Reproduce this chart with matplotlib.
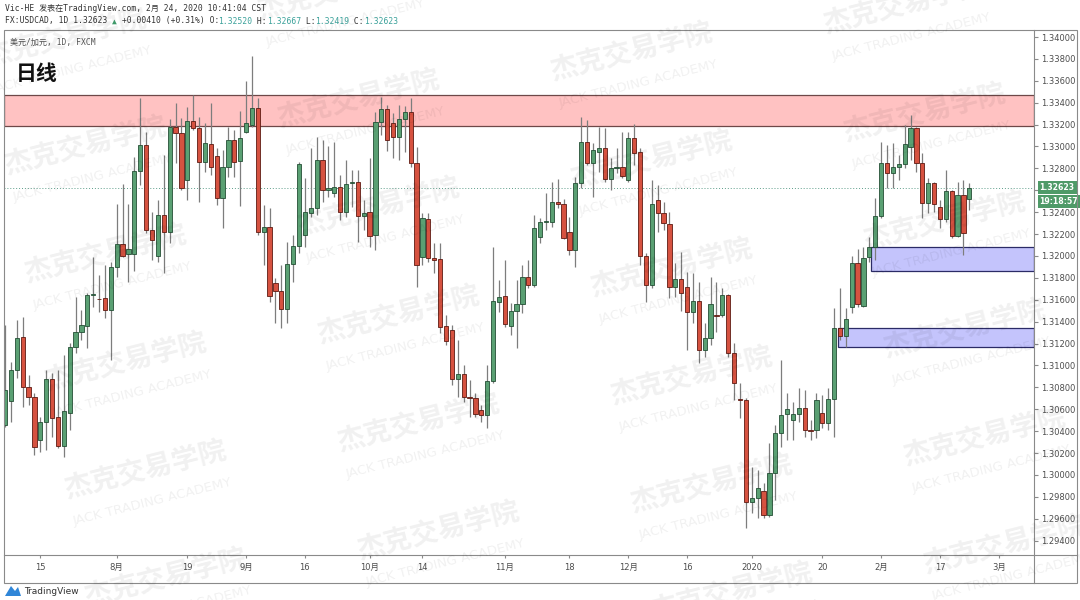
import numpy as np
import pandas as pd
import matplotlib
matplotlib.use("Agg")
import matplotlib.pyplot as plt
from matplotlib.patches import Rectangle, Polygon
from matplotlib.lines import Line2D
from matplotlib.transforms import blended_transform_factory

plt.rcParams['font.family'] = ['DejaVu Sans', 'Noto Sans CJK SC']
MONO = ['DejaVu Sans Mono', 'Noto Sans CJK SC']
CJK = ['Noto Sans CJK SC', 'DejaVu Sans']

# --- données USDCAD 1D (FXCM) ---
holidays = ['2019-12-25', '2020-01-01']
dates = pd.bdate_range('2019-07-05', '2020-02-24')
dates = dates[~dates.isin(pd.to_datetime(holidays))]

opens = [1.30457, 1.30676, 1.30959, 1.31257, 1.30807, 1.30709, 1.30320, 1.30481, 1.30874, 1.30527,
         1.30268, 1.30569, 1.31172, 1.31303, 1.31364, 1.31644, 1.31610, 1.31613, 1.31507, 1.31903,
         1.32107, 1.32018, 1.32018, 1.32776, 1.33011, 1.32238, 1.32003, 1.32375, 1.32222, 1.33181,
         1.33126, 1.32694, 1.33233, 1.33166, 1.32862, 1.33023, 1.32916, 1.32533, 1.32816, 1.33059,
         1.32868, 1.33136, 1.33196, 1.33355, 1.32222, 1.32268, 1.31750, 1.31680, 1.31513, 1.31924,
         1.32094, 1.32192, 1.32396, 1.32435, 1.32876, 1.32603, 1.32578, 1.32627, 1.32405, 1.32664,
         1.32673, 1.32365, 1.32399, 1.32192, 1.33227, 1.33339, 1.33217, 1.33083, 1.33248, 1.33312,
         1.32846, 1.31994, 1.32338, 1.31985, 1.31970, 1.31361, 1.31324, 1.30874, 1.30919, 1.30709,
         1.30706, 1.30594, 1.30548, 1.30862, 1.31577, 1.31635, 1.31361, 1.31498, 1.31559, 1.31805,
         1.31735, 1.32177, 1.32314, 1.32314, 1.32496, 1.32472, 1.32222, 1.32055, 1.32664, 1.33038,
         1.32846, 1.32953, 1.32983, 1.32703, 1.32801, 1.32810, 1.32694, 1.33075, 1.32953, 1.32000,
         1.31735, 1.32511, 1.32390, 1.32292, 1.31720, 1.31787, 1.31720, 1.31492, 1.31592, 1.31142,
         1.31248, 1.31458, 1.31461, 1.31644, 1.31111, 1.30690, 1.30685, 1.29751, 1.29787, 1.29857,
         1.29635, 1.30021, 1.30387, 1.30557, 1.30502, 1.30554, 1.30609, 1.30411, 1.30411, 1.30563,
         1.30472, 1.30694, 1.31340, 1.31270, 1.31531, 1.31939, 1.31547, 1.31994, 1.32085, 1.32365,
         1.32846, 1.32755, 1.32816, 1.32837, 1.32999, 1.33166, 1.32846, 1.32487, 1.32664, 1.32445,
         1.32338, 1.32594, 1.32183, 1.32557, 1.32520]
highs = [1.31370, 1.31035, 1.31415, 1.31440, 1.30913, 1.30746, 1.30533, 1.30959, 1.30928, 1.30959,
         1.31096, 1.31202, 1.31629, 1.31507, 1.31665, 1.31994, 1.31827, 1.31918, 1.31948, 1.32475,
         1.32655, 1.32472, 1.32907, 1.33440, 1.33136, 1.32405, 1.32512, 1.32922, 1.33248, 1.33394,
         1.33257, 1.33364, 1.33470, 1.33273, 1.33212, 1.33394, 1.32983, 1.32968, 1.33181, 1.33151,
         1.33324, 1.33601, 1.33826, 1.33440, 1.32466, 1.32435, 1.31796, 1.31918, 1.32131, 1.32192,
         1.32862, 1.32709, 1.32983, 1.33090, 1.33059, 1.33005, 1.33044, 1.32740, 1.32876, 1.32785,
         1.32785, 1.32512, 1.32892, 1.33318, 1.33455, 1.33379, 1.33303, 1.33379, 1.33370, 1.33440,
         1.32998, 1.32389, 1.32389, 1.32116, 1.32116, 1.31461, 1.31370, 1.31233, 1.31005, 1.30868,
         1.30746, 1.30639, 1.31005, 1.32085, 1.31781, 1.31964, 1.31568, 1.31781, 1.31918, 1.31964,
         1.32375, 1.32344, 1.32572, 1.32679, 1.32703, 1.32518, 1.32359, 1.32725, 1.33272, 1.33242,
         1.33029, 1.33181, 1.33166, 1.32892, 1.32983, 1.33129, 1.33136, 1.33206, 1.32983, 1.32025,
         1.32694, 1.32649, 1.32496, 1.32405, 1.31933, 1.32040, 1.31857, 1.31842, 1.31766, 1.31385,
         1.31811, 1.31766, 1.31705, 1.31650, 1.31203, 1.30837, 1.30700, 1.30076, 1.30046, 1.29924,
         1.30289, 1.30457, 1.31050, 1.30746, 1.30670, 1.30792, 1.30777, 1.30502, 1.30746, 1.30731,
         1.30792, 1.31522, 1.31705, 1.31522, 1.32000, 1.32061, 1.32085, 1.32177, 1.32527, 1.33044,
         1.33014, 1.33029, 1.32922, 1.33196, 1.33288, 1.33181, 1.32938, 1.32709, 1.32679, 1.32511,
         1.32785, 1.32603, 1.32679, 1.32694, 1.32667]
lows = [1.30441, 1.30487, 1.30883, 1.30624, 1.30639, 1.30183, 1.30213, 1.30228, 1.30350, 1.30244,
        1.30168, 1.30411, 1.31111, 1.31233, 1.31157, 1.31537, 1.31491, 1.31431, 1.31050, 1.31811,
        1.31994, 1.31766, 1.31866, 1.32648, 1.32207, 1.31964, 1.31948, 1.31842, 1.32116, 1.32846,
        1.32603, 1.32512, 1.33151, 1.32496, 1.32770, 1.32740, 1.32466, 1.32253, 1.32724, 1.32724,
        1.32457, 1.33120, 1.33181, 1.32192, 1.31918, 1.31583, 1.31391, 1.31339, 1.31385, 1.31766,
        1.32024, 1.32085, 1.32359, 1.32375, 1.32496, 1.32542, 1.32542, 1.32329, 1.32359, 1.32451,
        1.32131, 1.32238, 1.32085, 1.32055, 1.33105, 1.32962, 1.32892, 1.32876, 1.32953, 1.32816,
        1.31720, 1.31918, 1.31948, 1.31842, 1.31294, 1.31187, 1.30822, 1.30715, 1.30670, 1.30533,
        1.30533, 1.30487, 1.30426, 1.30837, 1.31491, 1.31354, 1.31279, 1.31157, 1.31476, 1.31705,
        1.31720, 1.32116, 1.32237, 1.32268, 1.32435, 1.32152, 1.32009, 1.31903, 1.32618, 1.32831,
        1.32542, 1.32770, 1.32679, 1.32603, 1.32755, 1.32709, 1.32679, 1.32831, 1.31918, 1.31583,
        1.31705, 1.32222, 1.32237, 1.31614, 1.31629, 1.31501, 1.31142, 1.31385, 1.31020, 1.31081,
        1.31187, 1.31309, 1.31446, 1.31081, 1.30685, 1.30518, 1.29513, 1.29650, 1.29604, 1.29604,
        1.29620, 1.29772, 1.30259, 1.30320, 1.30320, 1.30487, 1.30350, 1.30320, 1.30335, 1.30426,
        1.30411, 1.30350, 1.31233, 1.31172, 1.31477, 1.31537, 1.31537, 1.31948, 1.31964, 1.32344,
        1.32618, 1.32618, 1.32694, 1.32801, 1.32877, 1.32770, 1.32344, 1.32390, 1.32405, 1.32253,
        1.32314, 1.32161, 1.32177, 1.32009, 1.32419]
closes = [1.30776, 1.30959, 1.31254, 1.30807, 1.30709, 1.30259, 1.30481, 1.30874, 1.30517, 1.30268,
          1.30585, 1.31172, 1.31303, 1.31367, 1.31644, 1.31650, 1.31604, 1.31507, 1.31903, 1.32107,
          1.32003, 1.32061, 1.32776, 1.33011, 1.32238, 1.32146, 1.32375, 1.32222, 1.33181, 1.33126,
          1.32618, 1.33233, 1.33172, 1.32855, 1.33029, 1.32816, 1.32533, 1.32816, 1.33059, 1.32862,
          1.33075, 1.33212, 1.33349, 1.32222, 1.32268, 1.31635, 1.31680, 1.31513, 1.31924, 1.32094,
          1.32840, 1.32399, 1.32435, 1.32876, 1.32603, 1.32624, 1.32627, 1.32405, 1.32658, 1.32676,
          1.32365, 1.32396, 1.32186, 1.33227, 1.33339, 1.33059, 1.33083, 1.33248, 1.33312, 1.32846,
          1.31918, 1.32350, 1.31985, 1.31964, 1.31354, 1.31224, 1.30874, 1.30919, 1.30709, 1.30706,
          1.30554, 1.30548, 1.30862, 1.31589, 1.31629, 1.31376, 1.31501, 1.31559, 1.31805, 1.31735,
          1.32253, 1.32314, 1.32323, 1.32496, 1.32472, 1.32168, 1.32055, 1.32670, 1.33038, 1.32846,
          1.32968, 1.32983, 1.32703, 1.32801, 1.32810, 1.32731, 1.33075, 1.32944, 1.32000, 1.31735,
          1.32475, 1.32390, 1.32298, 1.31720, 1.31787, 1.31665, 1.31492, 1.31592, 1.31142, 1.31248,
          1.31562, 1.31452, 1.31644, 1.31111, 1.30843, 1.30685, 1.29751, 1.29787, 1.29878, 1.29635,
          1.30021, 1.30387, 1.30548, 1.30600, 1.30554, 1.30609, 1.30411, 1.30405, 1.30685, 1.30472,
          1.30694, 1.31340, 1.31270, 1.31422, 1.31933, 1.31559, 1.31982, 1.32085, 1.32365, 1.32846,
          1.32755, 1.32816, 1.32837, 1.33020, 1.33166, 1.32846, 1.32487, 1.32664, 1.32472, 1.32338,
          1.32594, 1.32183, 1.32557, 1.32207, 1.32623]

last_price = 1.32623
resistance_zone = (1.33187, 1.33470)
support_zones = [(147.2, 1.31866, 1.32085), (141.6, 1.31172, 1.31345)]

tick_dates = ['2019-07-15', '2019-08-01', '2019-08-19', '2019-09-02', '2019-09-16', '2019-10-01',
              '2019-10-14', '2019-11-01', '2019-11-18', '2019-12-02', '2019-12-16', '2020-01-02',
              '2020-01-20', '2020-02-03', '2020-02-17', '2020-03-02']
tick_labels = ['15', '8月', '19', '9月', '16', '10月', '14', '11月', '18', '12月', '16', '2020',
               '20', '2月', '17', '3月']
price_ticks = np.arange(1.294, 1.3401, 0.002)

W, H = 1080, 600
GREEN, RED = '#5aa073', '#d65240'
FRAME = '#8a8a8a'


def fx(px):
    return px / W


def fy(py):
    return 1 - py / H


fig = plt.figure(figsize=(W / 100, H / 100), dpi=100)
fig.patch.set_facecolor('white')
ax = fig.add_axes([fx(4), fy(555), fx(1034) - fx(4), fy(30) - fy(555)])

o = np.array(opens)
hi = np.array(highs)
lo = np.array(lows)
c = np.array(closes)
x = np.arange(len(dates))
up = c >= o
bot = np.minimum(o, c)
hgt = np.maximum(np.abs(c - o), 0.00004)

ax.set_xlim(-0.17, 175.0)
ax.set_ylim(1.29269, 1.34064)

# zones
ax.axhspan(*resistance_zone, fc='#ffc2c2', ec='#6e4848', lw=0.9, zorder=1)
for start, z_lo, z_hi in support_zones:
    ax.add_patch(Rectangle((start, z_lo), 175.0 - start, z_hi - z_lo, fc='#c4c4fc',
                           ec='#2b2b66', lw=0.9, zorder=1))

ax.axhline(last_price, color='#5e9e8a', ls=(0, (1, 2)), lw=0.7, zorder=1.5)

# bougies
ax.vlines(x, lo, hi, color='#7d7d7d', lw=0.9, zorder=2)
ax.bar(x[up], hgt[up], bottom=bot[up], width=0.72, color=GREEN, edgecolor='#244f35', lw=0.6, zorder=3)
ax.bar(x[~up], hgt[~up], bottom=bot[~up], width=0.72, color=RED, edgecolor='#5e1a12', lw=0.6, zorder=3)

# axes
for s in ax.spines.values():
    s.set_visible(False)
ax.yaxis.tick_right()
ax.set_yticks(price_ticks)
# le libellé caché derrière l'étiquette du dernier prix n'est pas affiché
ax.set_yticklabels(['' if abs(p - last_price) < 0.0008 else f'{p:.5f}' for p in price_ticks])
ax.tick_params(axis='y', length=3, color=FRAME, labelsize=6, labelcolor='#4d4d4d', pad=2)

first = dates[0].strftime('%Y-%m-%d')
tick_idx = [np.busday_count(first, d, holidays=holidays) for d in tick_dates]
ax.set_xticks(tick_idx)
ax.set_xticklabels(tick_labels)
ax.tick_params(axis='x', length=2, color=FRAME, labelsize=6, labelcolor='#4d4d4d', pad=4)

# étiquettes de prix
tr = blended_transform_factory(ax.transAxes, ax.transData)
box = dict(boxstyle='square,pad=0.25', fc='#4f9a68', ec='none')
ax.annotate(f'{last_price:.5f}', xy=(1, last_price), xycoords=tr, xytext=(4, 0.5),
            textcoords='offset points', ha='left', va='center', fontsize=5.6,
            color='white', fontweight='bold', bbox=box, annotation_clip=False)
ax.annotate('19:18:57', xy=(1, last_price), xycoords=tr, xytext=(4, -9.6),
            textcoords='offset points', ha='left', va='center', fontsize=5.6,
            color='white', fontweight='bold', bbox=box, annotation_clip=False)

# cadre
fig.add_artist(Rectangle((fx(4), fy(583)), fx(1077) - fx(4), fy(30) - fy(583), transform=fig.transFigure,
                         fill=False, ec=FRAME, lw=0.8))
fig.add_artist(Line2D([fx(4), fx(1077)], [fy(555), fy(555)], transform=fig.transFigure, color=FRAME, lw=0.8))
fig.add_artist(Line2D([fx(1034), fx(1034)], [fy(30), fy(583)], transform=fig.transFigure, color=FRAME, lw=0.8))

# en-tête
fs = 5.8
cw = 0.602 * fs * 100 / 72
fig.text(fx(5), fy(8), 'Vic-HE 发表在TradingView.com, 2月 24, 2020 10:41:04 CST', family=MONO,
         fontsize=fs, color='#333333', va='center')
pieces = [('FX:USDCAD, 1D 1.32623 ', '#333333'), ('▲', '#3f9a6a'), (' +0.00410 (+0.31%) O:', '#333333'),
          ('1.32520', '#3aa19a'), (' H:', '#333333'), ('1.32667', '#3aa19a'), (' L:', '#333333'),
          ('1.32419', '#3aa19a'), (' C:', '#333333'), ('1.32623', '#3aa19a')]
xpos = 5
for txt, col in pieces:
    fig.text(fx(xpos), fy(21), txt, family=MONO, fontsize=fs, color=col, va='center')
    xpos += len(txt) * cw

fig.text(fx(10), fy(42), '美元/加元, 1D, FXCM', family=MONO, fontsize=fs, color='#555555', va='center')
fig.text(fx(16), fy(73), '日线', family=CJK, fontsize=15, fontweight='bold', color='#111111', va='center')

# logo
fig.add_artist(Polygon([[fx(5), fy(596)], [fx(11), fy(586)], [fx(15), fy(591)], [fx(18), fy(587)],
                        [fx(21), fy(596)]], closed=True, transform=fig.transFigure,
                       fc='#2f86d8', ec='none'))
fig.text(fx(24), fy(591), 'TradingView', fontsize=6.5, color='#333333', va='center')

# filigrane
for col in range(-1, 5):
    for row in range(-2, 7):
        cx = 85 + 273 * col + 20 * row
        cy = 147 - 47 * col + 108 * row
        if -100 < cx < W + 100 and -40 < cy < H + 40:
            fig.text(fx(cx), fy(cy), '杰克交易学院', family=CJK, fontsize=20, fontweight='bold',
                     color='black', alpha=0.06, rotation=14, ha='center', va='center',
                     rotation_mode='anchor', zorder=10)
            fig.text(fx(cx + 7), fy(cy + 31), 'JACK TRADING ACADEMY', fontsize=9.5,
                     color='black', alpha=0.06, rotation=14, ha='center', va='center',
                     rotation_mode='anchor', zorder=10)

fig.savefig('out.png', dpi=100)
